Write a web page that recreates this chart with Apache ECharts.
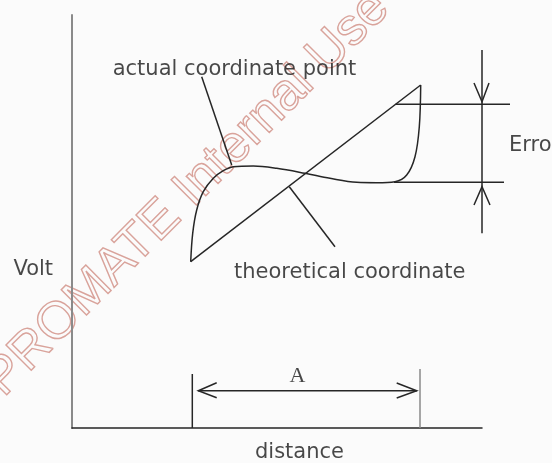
<!DOCTYPE html>
<html>
<head>
<meta charset="utf-8">
<script src="https://cdn.jsdelivr.net/npm/echarts@6/dist/echarts.min.js"></script>
<style>
  html, body { margin: 0; padding: 0; background: #fbfbfb; }
  #chart { width: 552px; height: 463px; }
</style>
</head>
<body>
<div id="chart"></div>
<script>
// units: x = distance, y = volt (arbitrary)
const theoryLine = [[118.7, 166.3], [348.7, 343]]
const actualCurve = [
  [118.7, 166.3], [120.7, 194.7], [124.7, 218], [131.3, 236.3], [141.3, 249.7],
  [151.3, 257.3], [161.3, 261.3], [181.3, 262], [204.7, 259.7], [233, 254.7],
  [258, 249.7], [284.7, 245.7], [304.7, 245.3], [323, 246.3], [334.7, 253],
  [343, 271.3], [347.3, 301.3], [348.7, 343],
]
const actualLeader = [[129.7, 351.3], [159.7, 263]]
const theoryLeader = [[217.3, 241.3], [263, 181.3]]

const errorTop = [[323.6, 323.7], [438, 323.7]]
const errorBottom = [[322, 245.7], [432, 245.7]]
const errorVert = [[410, 378], [410, 194.7]]
const errorArrowDown = [[402, 345], [410, 326.3], [417, 345]]
const errorArrowUp = [[402, 223], [410, 241.3], [418, 223]]

const spanLeft = [[120.3, 54], [120.3, 0]]
const spanRight = [[348, 59], [348, 0]]
const spanLine = [[126, 37.3], [345, 37.3]]
const spanHeadLeft = [[144.7, 45.3], [126.3, 37.3], [144.7, 30.3]]
const spanHeadRight = [[324.7, 45], [344.7, 37.3], [324.7, 30]]

const labelTexts = ['actual coordinate point', 'theoretical coordinate', 'Volt', 'distance', 'Error', 'A']
const labelX = [40.7, 162, -58.6, 227.5, 437, 225.5]
const labelY = [358, 155, 158, -24.7, 282, 52]

const dark = '#262626'
const grey = '#8a8a8a'
const textFont = '"DejaVu Sans", sans-serif'

const chart = echarts.init(document.getElementById('chart'))

const segments = [
  [theoryLine, dark], [actualLeader, dark], [theoryLeader, dark],
  [errorTop, dark], [errorBottom, dark], [errorVert, dark],
  [errorArrowDown, dark], [errorArrowUp, dark],
  [spanLeft, dark], [spanRight, grey], [spanLine, dark],
  [spanHeadLeft, dark], [spanHeadRight, dark],
]

function labelFor(text) {
  if (text === 'A') {
    return { position: 'inside', fontFamily: '"Liberation Serif", serif', fontSize: 22, color: '#1a1a1a' }
  }
  if (text === 'distance') return { position: 'inside', color: '#1a1a1a' }
  return { position: 'right', distance: 0 }
}

chart.setOption({
  backgroundColor: '#fbfbfb',
  animation: false,
  grid: { left: 72, top: 15, width: 410, height: 413 },
  xAxis: {
    type: 'value', min: 0, max: 410,
    axisLine: { show: true, lineStyle: { color: dark, width: 1.5 } },
    axisTick: { show: false }, axisLabel: { show: false }, splitLine: { show: false },
  },
  yAxis: {
    type: 'value', min: 0, max: 413,
    axisLine: { show: true, lineStyle: { color: grey, width: 2 } },
    axisTick: { show: false }, axisLabel: { show: false }, splitLine: { show: false },
  },
  graphic: [{
    type: 'text',
    x: 12, y: 406,
    rotation: 45 * Math.PI / 180,
    z: -10,
    silent: true,
    style: {
      text: 'PROMATE Internal Use Only',
      font: '52px "Liberation Sans", sans-serif',
      fill: 'transparent',
      stroke: '#d9a39b',
      lineWidth: 1.4,
      verticalAlign: 'bottom',
    },
  }],
  series: [
    {
      type: 'lines',
      coordinateSystem: 'cartesian2d',
      polyline: true,
      silent: true,
      clip: false,
      data: segments.map(([coords, color]) => ({ coords, lineStyle: { color } })),
      lineStyle: { width: 1.5, opacity: 1 },
    },
    {
      type: 'line',
      data: actualCurve,
      smooth: 0.35,
      symbol: 'none',
      silent: true,
      lineStyle: { color: dark, width: 1.5 },
    },
    {
      type: 'scatter',
      symbolSize: 0,
      clip: false,
      silent: true,
      data: labelTexts.map((t, i) => ({
        name: t,
        value: [labelX[i], labelY[i]],
        label: labelFor(t),
      })),
      label: {
        show: true,
        formatter: (p) => p.name,
        color: '#1a1a1a',
        fontSize: 21,
        fontFamily: textFont,
      },
    },
  ],
})
</script>
</body>
</html>
